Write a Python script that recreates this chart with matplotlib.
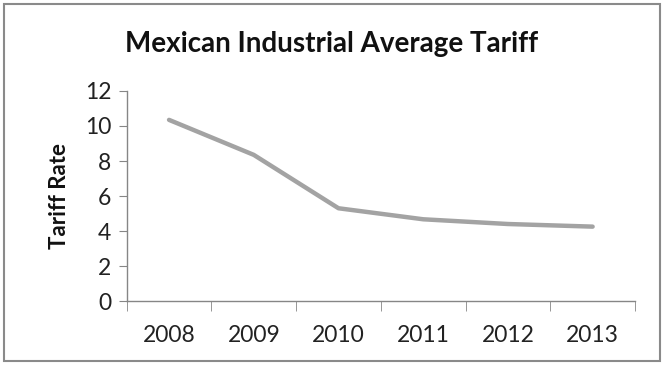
import matplotlib
matplotlib.use("Agg")
import matplotlib.pyplot as plt
from matplotlib.patches import Rectangle

years = ["2008", "2009", "2010", "2011", "2012", "2013"]
tariff = [10.35, 8.35, 5.3, 4.67, 4.4, 4.25]
yticks = [0, 2, 4, 6, 8, 10, 12]

plt.rcParams['font.family'] = ['Lato', 'DejaVu Sans']

fig = plt.figure(figsize=(6.64, 3.65), dpi=100)
fig.patches.append(Rectangle((0.006, 0.01), 0.988, 0.98, transform=fig.transFigure,
                             fill=False, edgecolor='#8a8a8a', linewidth=1.5))
ax = fig.add_axes([0.1908, 0.1753, 0.7655, 0.5754])
x = list(range(len(years)))
ax.plot(x, tariff, color='#a3a3a3', linewidth=3.2, solid_capstyle='round', solid_joinstyle='round')

ax.set_xlim(-0.5, len(years) - 0.5)
ax.set_ylim(0, 12)
ax.set_yticks(yticks)
ax.set_yticklabels([str(v) for v in yticks], fontsize=16.5, color='#222222')
ax.set_xticks(x)
ax.set_xticklabels(years, fontsize=16.5, color='#222222')
ax.tick_params(axis='x', which='major', length=0, pad=17)
ax.set_xticks([i - 0.5 for i in range(len(years) + 1)], minor=True)
ax.tick_params(axis='x', which='minor', length=7, color='#868686', direction='out')
ax.tick_params(axis='y', length=6, color='#868686', pad=5)

for s in ['top', 'right']:
    ax.spines[s].set_visible(False)
for s in ['left', 'bottom']:
    ax.spines[s].set_color('#868686')
    ax.spines[s].set_linewidth(1.0)

ax.set_ylabel("Tariff Rate", fontsize=16, fontweight='bold', color='#111111')
ax.yaxis.set_label_coords(-0.112, 0.5)
fig.text(0.5, 0.88, "Mexican Industrial Average Tariff", ha='center', va='center',
         fontsize=20, fontweight='bold', color='#111111')

fig.savefig("out.png", dpi=100)
